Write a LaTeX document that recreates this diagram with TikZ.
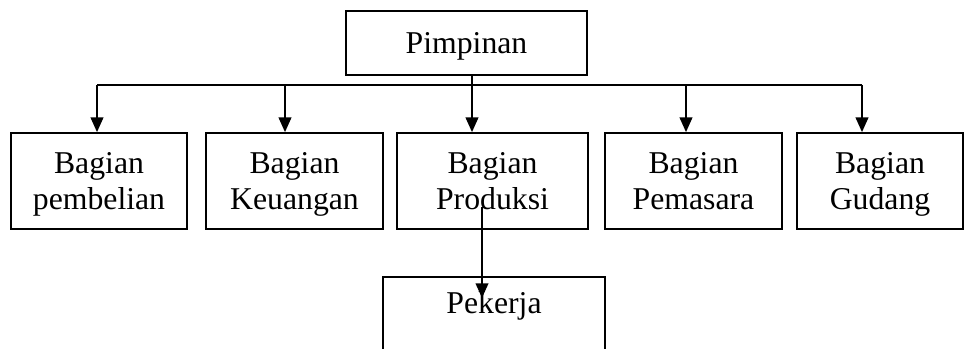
\documentclass[tikz,border=0pt]{standalone}
\usepackage{fontspec}
\setmainfont{Liberation Serif}
\usetikzlibrary{arrows.meta,positioning}

\begin{document}
\begin{tikzpicture}[x=0.75pt,y=-0.75pt,line width=1.3pt,>={Triangle[length=11pt,width=9.5pt]}]
                \tikzstyle{every node}+=[font=\fontsize{23.8}{27.7}\selectfont, align=center, inner sep=0pt, text depth=0pt]
                \tikzstyle{unit}=[draw, minimum height=72pt]
                \useasboundingbox (0,0) rectangle (965,349);
                \clip (0,0) rectangle (965,349);
                \node [draw, minimum width=180.75pt, minimum height=48pt] (pimpinan) at (466.5,43) {Pimpinan};
                \node [unit, minimum width=132pt] (pembelian) at (99,181) {Bagian\\pembelian};
                \node [unit, minimum width=132.75pt] (keuangan) at (294.5,181) {Bagian\\Keuangan};
                \node [unit, minimum width=143.25pt] (produksi) at (492.5,181) {Bagian\\Produksi};
                \node [unit, minimum width=132.75pt] (pemasaran) at (693.5,181) {Bagian\\Pemasara};
                \node [unit, minimum width=124.5pt] (gudang) at (880,181) {Bagian\\Gudang};
                \node [unit, minimum width=166.5pt, minimum height=65.6pt] (pekerja) at (494,320.5) {Pekerja\\\strut};
                % garis bagi
                \coordinate (t1) at (97,85);
                \coordinate (t2) at (285,85);
                \coordinate (t3) at (472,85);
                \coordinate (t4) at (686,85);
                \coordinate (t5) at (862,85);
                \draw (t1) -- (t5);
                \draw [->] (pimpinan.south -| t3) -- (t3 |- produksi.north);
                \draw [->] (t1) -- (t1 |- pembelian.north);
                \draw [->] (t2) -- (t2 |- keuangan.north);
                \draw [->] (t4) -- (t4 |- pemasaran.north);
                \draw [->] (t5) -- (t5 |- gudang.north);
                % ke pekerja
                \coordinate (p1) at (482,207);
                \coordinate (p2) at (482,298);
                \draw [->] (p1) -- (p2);
\end{tikzpicture}
\end{document}
